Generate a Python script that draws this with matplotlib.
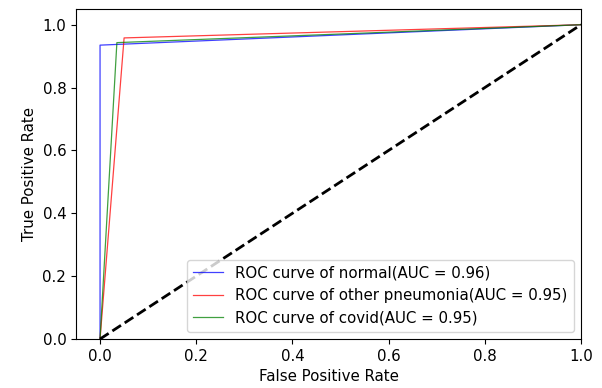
import matplotlib
matplotlib.use("Agg")
import matplotlib.pyplot as plt

plt.rcParams["font.size"] = 10.8

# ROC points for each class
classes = ["normal", "other pneumonia", "covid"]
aucs = [0.96, 0.95, 0.95]
colors = ["blue", "red", "green"]
fpr = {
    "normal": [0.0, 0.0, 1.0],
    "other pneumonia": [0.0, 0.05, 1.0],
    "covid": [0.0, 0.035, 1.0],
}
tpr = {
    "normal": [0.0, 0.935, 1.0],
    "other pneumonia": [0.0, 0.958, 1.0],
    "covid": [0.0, 0.943, 1.0],
}

fig = plt.figure(figsize=(6.02, 3.88), dpi=100)
ax = fig.add_axes([76 / 602, 1 - 339 / 388, (581 - 76) / 602, (339 - 9) / 388])

for name, auc, c in zip(classes, aucs, colors):
    ax.plot(fpr[name], tpr[name], color=c, lw=0.9, alpha=0.75,
            label=f"ROC curve of {name}(AUC = {auc:.2f})")

ax.plot([0, 1], [0, 1], "k--", lw=2)
ax.set_xlim(-0.05, 1.0)
ax.set_ylim(0.0, 1.05)
ax.set_xlabel("False Positive Rate")
ax.set_ylabel("True Positive Rate")
ax.legend(loc="lower right")

fig.savefig("out.png", dpi=100)
